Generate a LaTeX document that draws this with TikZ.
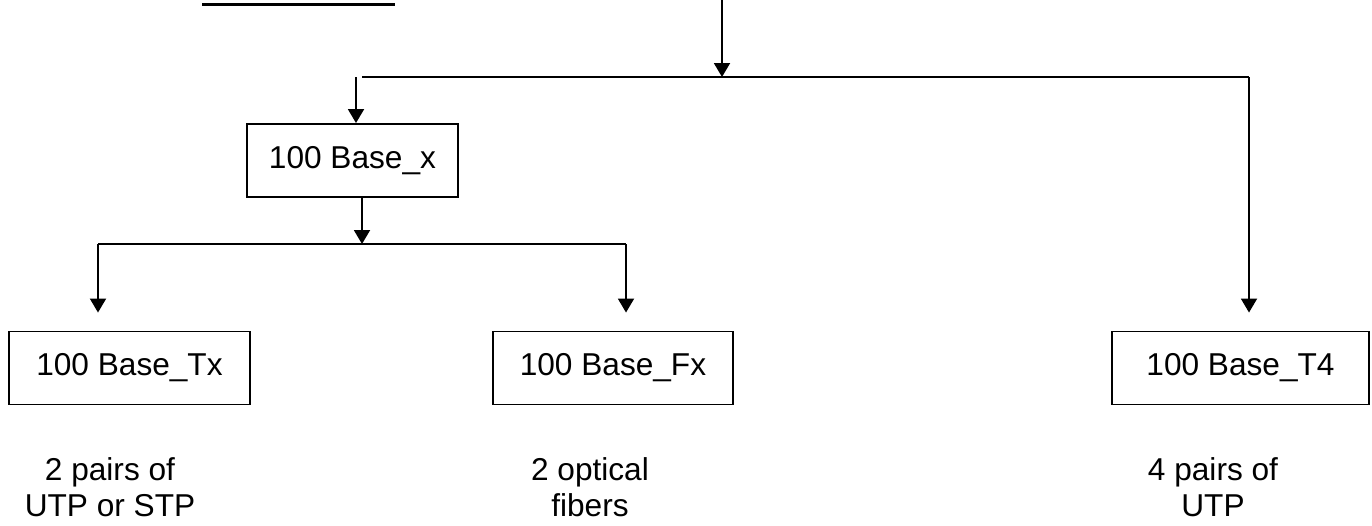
\documentclass[tikz,border=0pt]{standalone}
\usepackage{fontspec}
\setmainfont{Liberation Sans}
\usepackage{tikz}
\usetikzlibrary{arrows.meta,positioning}

\begin{document}
\begin{tikzpicture}[x=0.02cm, y=-0.02cm,
    box/.style={rectangle, draw, line width=1.1pt, minimum height=1.46cm, inner sep=0pt, font=\fontsize{18}{21}\selectfont},
    note/.style={align=center, inner sep=0pt, font=\fontsize{18}{20.5}\selectfont},
    link/.style={line width=1.1pt},
    arrow/.style={line width=1.1pt, -{Triangle[width=0.32cm, length=0.28cm]}}
]
\useasboundingbox (0,0) rectangle (1372,525);

% cut-off title underline
\draw[line width=0.06cm] (202,4.5) -- (395,4.5);

\node[box, minimum width=4.22cm] (basex) at (352.5,160.5) {100 Base\_x};
\node[box, minimum width=4.82cm] (tx) at (129.5,368) {100 Base\_Tx};
\node[box, minimum width=4.80cm] (fx) at (613,368) {100 Base\_Fx};
\node[box, minimum width=5.14cm] (tfour) at (1240.5,368) {100 Base\_T4};

\node[note] (txnote) at (110,487) {2 pairs of\\UTP or STP};
\node[note] (fxnote) at (590,487) {2 optical\\fibers};
\node[note] (tfournote) at (1213,487) {4 pairs of\\UTP};

\coordinate (top) at (722,0);
\coordinate (jtop) at (722,77);
\coordinate (hleft) at (362,77);
\coordinate (hright) at (1249,77);
\coordinate (down) at (356,77);
\coordinate (jmid) at (362,244);
\coordinate (jleft) at (98,244);
\coordinate (jright) at (626,244);

\draw[arrow] (top) -- (jtop);
\draw[link] (hleft) -- (hright);
\draw[arrow] (down) -- (basex.north -| down);
\draw[arrow] (basex.south -| jmid) -- (jmid);
\draw[link] (jleft) -- (jright);
\draw[arrow, shorten >=0.36cm] (jleft) -- (tx.north -| jleft);
\draw[arrow, shorten >=0.36cm] (jright) -- (fx.north -| jright);
\draw[arrow, shorten >=0.36cm] (hright) -- (tfour.north -| hright);

\end{tikzpicture}
\end{document}
